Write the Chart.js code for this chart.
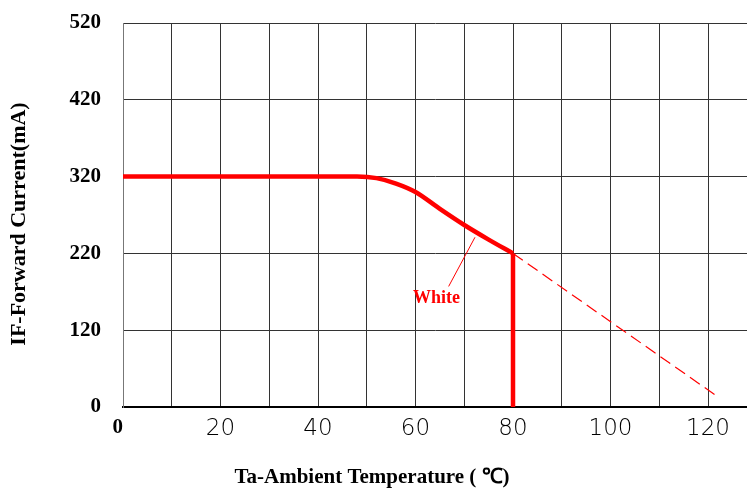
<!DOCTYPE html>
<html>
<head>
<meta charset="utf-8">
<script src="https://cdn.jsdelivr.net/npm/chart.js@4"></script>
<style>
  html, body { margin: 0; padding: 0; background: #fff; }
  #wrap { width: 747px; height: 491px; position: relative; }
</style>
</head>
<body>
<div id="wrap"><canvas id="myChart"></canvas></div>
<script>
// derating curve
const tempX = [0, 48, 52, 56, 60, 65, 70, 75, 80];
const currentY = [320, 320, 318, 311, 300, 278, 257, 238, 220];
const cutoffX = [80, 80];
const cutoffY = [220, 20];
const extendX = [80, 122.3];
const extendY = [220, 32];
const leaderX = [66.8, 72.2];
const leaderY = [177, 241];

const yTicks = [20, 120, 220, 320, 420, 520];
const xTicks = [0, 10, 20, 30, 40, 50, 60, 70, 80, 90, 100, 110, 120];

const serifBold = { family: "'Liberation Serif', 'Times New Roman', serif", size: 21, weight: 'bold' };

function pts(xs, ys) {
    return xs.map((x, i) => ({ x: x, y: ys[i] }));
}

const textPlugin = {
    id: 'textPlugin',
    afterDraw(chart) {
        const c = chart.ctx;
        const xs = chart.scales.x, ys = chart.scales.y;
        c.save();
        c.fillStyle = '#000';
        c.textAlign = 'center';
        c.textBaseline = 'middle';
        c.font = "bold 21px 'Liberation Serif', serif";
        c.fillText('Ta-Ambient Temperature ( \u2103)', 372, 478);
        c.font = "bold 22px 'Liberation Serif', serif";
        c.translate(19, 224);
        c.rotate(-Math.PI / 2);
        c.fillText('IF-Forward Current(mA)', 0, 0);
        c.restore();

        c.save();
        c.fillStyle = '#ff0000';
        c.font = "bold 18px 'Liberation Serif', serif";
        c.textAlign = 'center';
        c.textBaseline = 'middle';
        c.fillText('White', xs.getPixelForValue(64.3), ys.getPixelForValue(162));
        c.restore();
    }
};

const ctx = document.getElementById('myChart').getContext('2d');
const myChart = new Chart(ctx, {
    type: 'line',
    data: {
        datasets: [
            {
                data: pts(tempX, currentY),
                borderColor: '#ff0000',
                borderWidth: 4.5,
                pointRadius: 0,
                cubicInterpolationMode: 'monotone'
            },
            {
                data: pts(cutoffX, cutoffY),
                borderColor: '#ff0000',
                borderWidth: 4.5,
                pointRadius: 0
            },
            {
                data: pts(extendX, extendY),
                borderColor: '#ff0000',
                borderWidth: 1.2,
                borderDash: [12, 6],
                pointRadius: 0
            },
            {
                data: pts(leaderX, leaderY),
                borderColor: '#ff0000',
                borderWidth: 1,
                pointRadius: 0
            }
        ]
    },
    options: {
        responsive: true,
        maintainAspectRatio: false,
        animation: false,
        layout: { padding: { top: 23, right: 0, left: 0, bottom: 0 } },
        plugins: { legend: { display: false }, tooltip: { enabled: false } },
        scales: {
            x: {
                type: 'linear',
                min: 0,
                max: 128,
                afterBuildTicks: s => { s.ticks = xTicks.map(v => ({ value: v })); },
                afterFit: s => { s.height = 84; s.paddingLeft = 0; s.paddingRight = 0; },
                grid: { color: '#333', lineWidth: 1, drawTicks: false },
                border: { color: '#000', width: 2 },
                ticks: {
                    padding: 8,
                    autoSkip: false,
                    maxRotation: 0,
                    color: '#000',
                    callback: v => (v === 0 ? '0  ' : (v % 20 === 0 ? String(v) : '')),
                    font: c => (c.tick && c.tick.value === 0)
                        ? serifBold
                        : { family: "'DejaVu Sans', sans-serif", size: 23, weight: 200 }
                }
            },
            y: {
                type: 'linear',
                min: 20,
                max: 520,
                afterBuildTicks: s => { s.ticks = yTicks.map(v => ({ value: v })); },
                afterFit: s => { s.width = 123; s.paddingTop = 0; s.paddingBottom = 0; },
                grid: { color: '#333', lineWidth: 1, drawTicks: false },
                border: { color: '#777', width: 1 },
                ticks: {
                    padding: 22,
                    color: '#000',
                    font: serifBold,
                    callback: v => (v === 20 ? '0' : String(v))
                }
            }
        }
    },
    plugins: [textPlugin]
});
</script>
</body>
</html>
